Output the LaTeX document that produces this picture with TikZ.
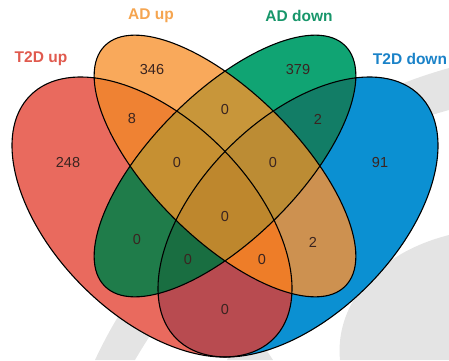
\documentclass[tikz,border=0pt]{standalone}
\usepackage{fontspec}
\setmainfont{Liberation Sans}
\definecolor{cR}{HTML}{E96A5E}
\definecolor{cO}{HTML}{F9A95B}
\definecolor{cG}{HTML}{10A473}
\definecolor{cB}{HTML}{0B90D2}
\definecolor{cRO}{HTML}{EF8233}
\definecolor{cRG}{HTML}{1F7C4A}
\definecolor{cRB}{HTML}{B84B50}
\definecolor{cOG}{HTML}{C8963A}
\definecolor{cOB}{HTML}{CD9150}
\definecolor{cGB}{HTML}{127D66}
\definecolor{cROG}{HTML}{C69032}
\definecolor{cROB}{HTML}{EE7D28}
\definecolor{cRGB}{HTML}{196E41}
\definecolor{cOGB}{HTML}{BC8C34}
\definecolor{cROGB}{HTML}{BE872D}
\definecolor{numc}{HTML}{3A2420}
\definecolor{wm}{HTML}{E4E4E4}
\definecolor{tR}{HTML}{E05A4E}
\definecolor{tO}{HTML}{F5A550}
\definecolor{tG}{HTML}{17966A}
\definecolor{tB}{HTML}{1A82C8}
\begin{document}
\begin{tikzpicture}[x=1pt,y=1pt,
  eR/.style={shift={(152,143)},rotate=-45,x radius=172,y radius=98},
  eO/.style={shift={(225,194)},rotate=-45,x radius=170,y radius=73},
  eG/.style={shift={(225,194)},rotate=45,x radius=170,y radius=73},
  eB/.style={shift={(298,143)},rotate=45,x radius=172,y radius=98},
  num/.style={font=\fontsize{14.5}{14.5}\selectfont, text=numc, inner sep=0pt},
  lab/.style={font=\fontsize{15.5}{15.5}\selectfont\bfseries, inner sep=0pt},
  outl/.style={draw=black, line width=1.1pt}]
\useasboundingbox (0,0) rectangle (449,360);
% watermark shapes
\fill[wm] (449,292) .. controls (300,250) and (160,140) .. (95,0) -- (135,0) .. controls (205,120) and (320,215) .. (449,250) -- cycle;
\fill[wm] (340,0) .. controls (335,50) and (370,105) .. (449,125) -- (449,0) -- cycle;
\fill[wm] (227,0) -- (245,42) -- (273,0) -- cycle;
% single sets
\fill[cB][eB] (0,0) ellipse;
\fill[cR][eR] (0,0) ellipse;
\fill[cG][eG] (0,0) ellipse;
\fill[cO][eO] (0,0) ellipse;
% pairs
\begin{scope}\clip[eR] (0,0) ellipse; \fill[cRO][eO] (0,0) ellipse; \end{scope}
\begin{scope}\clip[eR] (0,0) ellipse; \fill[cRG][eG] (0,0) ellipse; \end{scope}
\begin{scope}\clip[eR] (0,0) ellipse; \fill[cRB][eB] (0,0) ellipse; \end{scope}
\begin{scope}\clip[eO] (0,0) ellipse; \fill[cOG][eG] (0,0) ellipse; \end{scope}
\begin{scope}\clip[eO] (0,0) ellipse; \fill[cOB][eB] (0,0) ellipse; \end{scope}
\begin{scope}\clip[eG] (0,0) ellipse; \fill[cGB][eB] (0,0) ellipse; \end{scope}
% triples
\begin{scope}\clip[eR] (0,0) ellipse; \clip[eO] (0,0) ellipse; \fill[cROG][eG] (0,0) ellipse; \end{scope}
\begin{scope}\clip[eR] (0,0) ellipse; \clip[eO] (0,0) ellipse; \fill[cROB][eB] (0,0) ellipse; \end{scope}
\begin{scope}\clip[eR] (0,0) ellipse; \clip[eG] (0,0) ellipse; \fill[cRGB][eB] (0,0) ellipse; \end{scope}
\begin{scope}\clip[eO] (0,0) ellipse; \clip[eG] (0,0) ellipse; \fill[cOGB][eB] (0,0) ellipse; \end{scope}
% all four
\begin{scope}\clip[eR] (0,0) ellipse; \clip[eO] (0,0) ellipse; \clip[eG] (0,0) ellipse; \fill[cROGB][eB] (0,0) ellipse; \end{scope}
% outlines
\draw[outl][eR] (0,0) ellipse;
\draw[outl][eO] (0,0) ellipse;
\draw[outl][eG] (0,0) ellipse;
\draw[outl][eB] (0,0) ellipse;
% set labels
\node[lab, text=tR] (lT2Dup) at (41,301) {T2D up};
\node[lab, text=tO] (lADup) at (151,344) {AD up};
\node[lab, text=tG] (lADdown) at (299,344) {AD down};
\node[lab, text=tB] (lT2Ddown) at (410,301) {T2D down};
% counts
\node[num] (n1) at (68,197) {248};
\node[num] (n2) at (152,290) {346};
\node[num] (n3) at (298,290) {379};
\node[num] (n4) at (380,197) {91};
\node[num] (n5) at (132,241) {8};
\node[num] (n6) at (225,250) {0};
\node[num] (n7) at (318,241) {2};
\node[num] (n8) at (177,197) {0};
\node[num] (n9) at (273,197) {0};
\node[num] (n10) at (225,143) {0};
\node[num] (n11) at (137,120) {0};
\node[num] (n12) at (313,118) {2};
\node[num] (n13) at (188,100) {0};
\node[num] (n14) at (262,100) {0};
\node[num] (n15) at (225,50) {0};
\end{tikzpicture}
\end{document}
